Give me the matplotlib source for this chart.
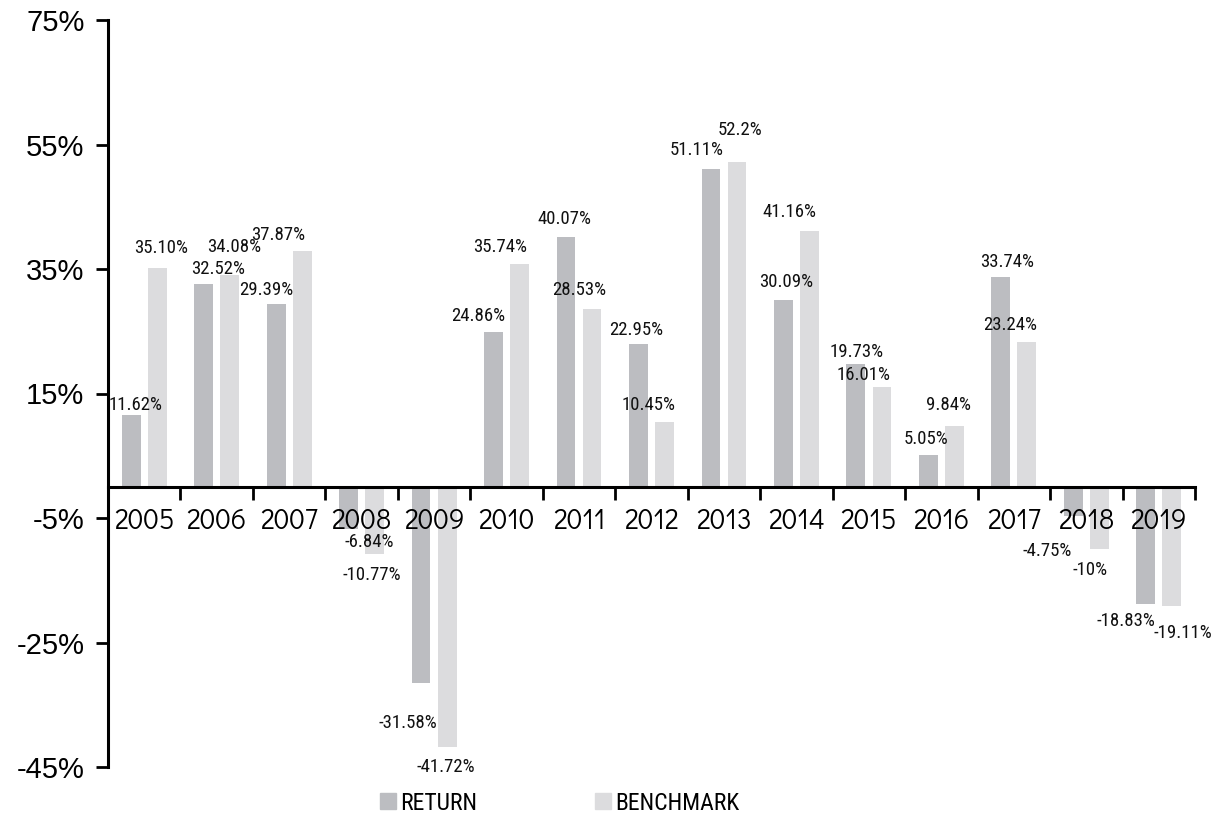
import numpy as np
import matplotlib
matplotlib.use("Agg")
from matplotlib import pyplot as plt
from matplotlib.patches import Patch

years = ["2005", "2006", "2007", "2008", "2009", "2010", "2011", "2012",
         "2013", "2014", "2015", "2016", "2017", "2018", "2019"]
ret = [11.62, 32.52, 29.39, -6.84, -31.58, 24.86, 40.07, 22.95,
       51.11, 30.09, 19.73, 5.05, 33.74, -4.75, -18.83]
bench = [35.10, 34.08, 37.87, -10.77, -41.72, 35.74, 28.53, 10.45,
         52.2, 41.16, 16.01, 9.84, 23.24, -10.0, -19.11]
ret_txt = ["11.62%", "32.52%", "29.39%", "-6.84%", "-31.58%", "24.86%", "40.07%", "22.95%",
           "51.11%", "30.09%", "19.73%", "5.05%", "33.74%", "-4.75%", "-18.83%"]
bench_txt = ["35.10%", "34.08%", "37.87%", "-10.77%", "-41.72%", "35.74%", "28.53%", "10.45%",
             "52.2%", "41.16%", "16.01%", "9.84%", "23.24%", "-10%", "-19.11%"]

# label nudges (pixels): sideways shift and distance from bar end
ret_dx = [4, 14, -10, 21, -13, -15, -2, -2, -14, 3, 1, -2, 6, -26, -20]
ret_dy = [10, 15, 14, 13, 40, 16, 18, 14, 19, 18, 12, 16, 15, 35, 17]
bench_dx = [4, 4, -24, -3, -1, -19, -13, -16, 3, -20, -18, -6, -17, -9, 11]
bench_dy = [20, 28, 16, 21, 20, 17, 19, 17, 32, 19, 12, 21, 17, 21, 27]

c_ret = "#bcbdc1"
c_bench = "#dcdcde"

fig = plt.figure(figsize=(12.19, 8.23), dpi=100)
ax = fig.add_axes([108 / 1219, 1 - 767 / 823, (1195 - 108) / 1219, (767 - 20) / 823])
ax.set_axisbelow(False)

x = np.arange(len(years))
w = 0.26
off = 0.18
ax.bar(x - off, ret, w, color=c_ret, zorder=2)
ax.bar(x + off, bench, w, color=c_bench, zorder=2)

lab_font = dict(family="Roboto Condensed", fontsize=13.5, color="#111111")
px = 72 / 100  # pixels -> points
for i in range(len(years)):
    for val, txt, dx, dy, xo in [(ret[i], ret_txt[i], ret_dx[i], ret_dy[i], -off),
                                  (bench[i], bench_txt[i], bench_dx[i], bench_dy[i], off)]:
        sgn = 1 if val >= 0 else -1
        ax.annotate(txt, (x[i] + xo, val), xytext=(dx * px, sgn * dy * px),
                    textcoords="offset points", ha="center", va="center", **lab_font)

ax.set_xlim(-0.5, len(years) - 0.5)
ax.set_ylim(-45, 75)
ax.set_yticks(np.arange(-45, 76, 20))
ax.set_yticklabels([f"{v}%" for v in range(-45, 76, 20)],
                   family="Liberation Sans", fontsize=21)

ax.spines["top"].set_visible(False)
ax.spines["right"].set_visible(False)
ax.spines["bottom"].set_position(("data", 0))
ax.spines["left"].set_linewidth(2.2)
ax.spines["bottom"].set_linewidth(2.2)
ax.tick_params(axis="y", length=9, width=2, pad=8)

ax.set_xticks(np.arange(-0.5, len(years), 1.0))
ax.set_xticklabels([])
ax.tick_params(axis="x", which="major", direction="out", length=9, width=2)
ax.set_xticks(x, minor=True)
ax.set_xticklabels(years, minor=True, family="Didact Gothic", fontsize=20)
ax.tick_params(axis="x", which="minor", length=0, pad=15)

handles = [Patch(color=c_ret, label="RETURN"), Patch(color=c_bench, label="BENCHMARK")]
fig.legend(handles=handles, loc="center", bbox_to_anchor=(560 / 1219, 1 - 803 / 823),
           ncol=2, frameon=False, handlelength=0.65, handleheight=0.65, handletextpad=0.2,
           columnspacing=5.0, prop=dict(family="Roboto Condensed", size=17))

fig.savefig("out.png", dpi=100)
